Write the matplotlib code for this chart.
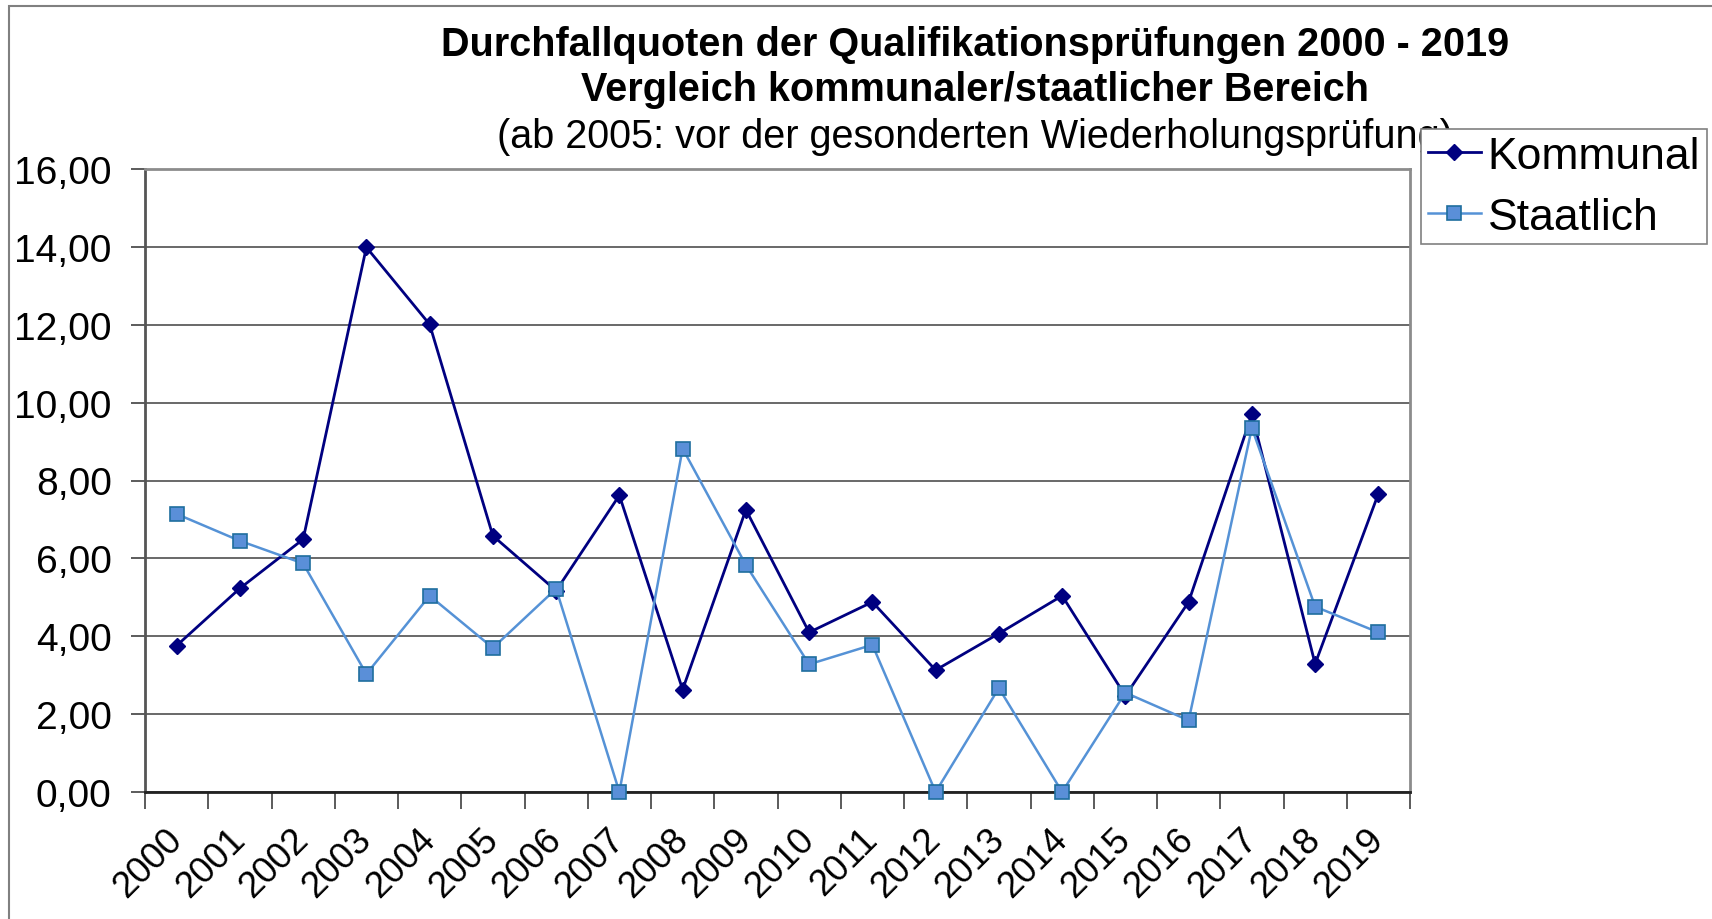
import numpy as np
import matplotlib
matplotlib.use("Agg")
import matplotlib.pyplot as plt
from matplotlib.ticker import FuncFormatter, FixedLocator
from matplotlib.patches import Rectangle

plt.rcParams['font.family'] = ['Liberation Sans', 'DejaVu Sans']

# data
jahre = ['2000', '2001', '2002', '2003', '2004', '2005', '2006', '2007', '2008', '2009',
         '2010', '2011', '2012', '2013', '2014', '2015', '2016', '2017', '2018', '2019']
kommunal = [3.76, 5.23, 6.49, 13.99, 12.01, 6.58, 5.17, 7.62, 2.63, 7.25,
            4.10, 4.88, 3.13, 4.07, 5.04, 2.47, 4.88, 9.70, 3.29, 7.66]
staatlich = [7.14, 6.45, 5.87, 3.03, 5.04, 3.70, 5.22, 0.00, 8.82, 5.83,
             3.28, 3.78, 0.00, 2.67, 0.00, 2.55, 1.84, 9.35, 4.76, 4.10]
y_ticks = [0, 2, 4, 6, 8, 10, 12, 14, 16]

W, H = 1712, 920
fig = plt.figure(figsize=(W / 100, H / 100), dpi=100)
ax = fig.add_axes([145 / W, 1 - 793 / H, (1410 - 145) / W, (793 - 170) / H])

x = np.arange(len(jahre)) + 0.5
ax.plot(x, kommunal, color='#000080', lw=2, marker='D', ms=8.5,
        mfc='#000080', mec='#000080', label='Kommunal', zorder=3)
ax.plot(x, staatlich, color='#5592d6', lw=1.8, marker='s', ms=10.5,
        mfc='#5a8fd8', mec='#1f6e9e', mew=1.2, label='Staatlich', zorder=4,
        clip_on=False)

ax.set_xlim(0, len(jahre))
ax.set_ylim(0, 16)

# y axis
ax.set_yticks(y_ticks)
ax.yaxis.set_major_formatter(FuncFormatter(lambda v, p: f"{v:.2f}".replace('.', ',')))
ax.tick_params(axis='y', length=10, width=1.2, pad=14, labelsize=28, color='#404040')
ax.yaxis.grid(True, color='#404040', lw=1.1)
ax.set_axisbelow(True)

# x axis: ticks at category borders, labels in the middle
ax.xaxis.set_major_locator(FixedLocator(np.arange(len(jahre) + 1)))
ax.xaxis.set_minor_locator(FixedLocator(x))
ax.set_xticklabels([])
ax.set_xticklabels(jahre, minor=True)
ax.tick_params(axis='x', which='major', length=12, width=1.2, color='#404040')
ax.tick_params(axis='x', which='minor', length=0, pad=30, labelsize=26.5)
for lab in ax.get_xticklabels(minor=True):
    lab.set_rotation(45)
    lab.set_ha('right')
    lab.set_va('center')
    lab.set_rotation_mode('anchor')

for s in ['top', 'right']:
    ax.spines[s].set_color('#8c8c8c')
    ax.spines[s].set_linewidth(2)
ax.spines['left'].set_color('#555555')
ax.spines['left'].set_linewidth(2)
ax.spines['bottom'].set_color('#222222')
ax.spines['bottom'].set_linewidth(2)

# titles
cx = 975 / W
fig.text(cx, 1 - 45 / H, 'Durchfallquoten der Qualifikationsprüfungen 2000 - 2019',
         ha='center', va='center', fontsize=28.5, fontweight='bold')
fig.text(cx, 1 - 90 / H, 'Vergleich kommunaler/staatlicher Bereich',
         ha='center', va='center', fontsize=28.5, fontweight='bold')
fig.text(cx, 1 - 137 / H, '(ab 2005: vor der gesonderten Wiederholungsprüfung)',
         ha='center', va='center', fontsize=28.5)

# outer chart border
fig.patches.append(Rectangle((9 / W, -0.05), 1.1, 1 - 7 / H + 0.05,
                             transform=fig.transFigure, fill=False,
                             edgecolor='#808080', lw=1.5))

leg = fig.legend(loc='upper left', bbox_to_anchor=(1421 / W, 1 - 130 / H),
                 fontsize=32, frameon=True, fancybox=False, borderaxespad=0,
                 borderpad=0.15, labelspacing=0.45, handlelength=1.2,
                 handletextpad=0.15)
leg.get_frame().set_edgecolor('#808080')
leg.get_frame().set_linewidth(1.2)
leg.get_frame().set_alpha(1)
leg.set_zorder(10)

fig.savefig('out.png', dpi=100)
